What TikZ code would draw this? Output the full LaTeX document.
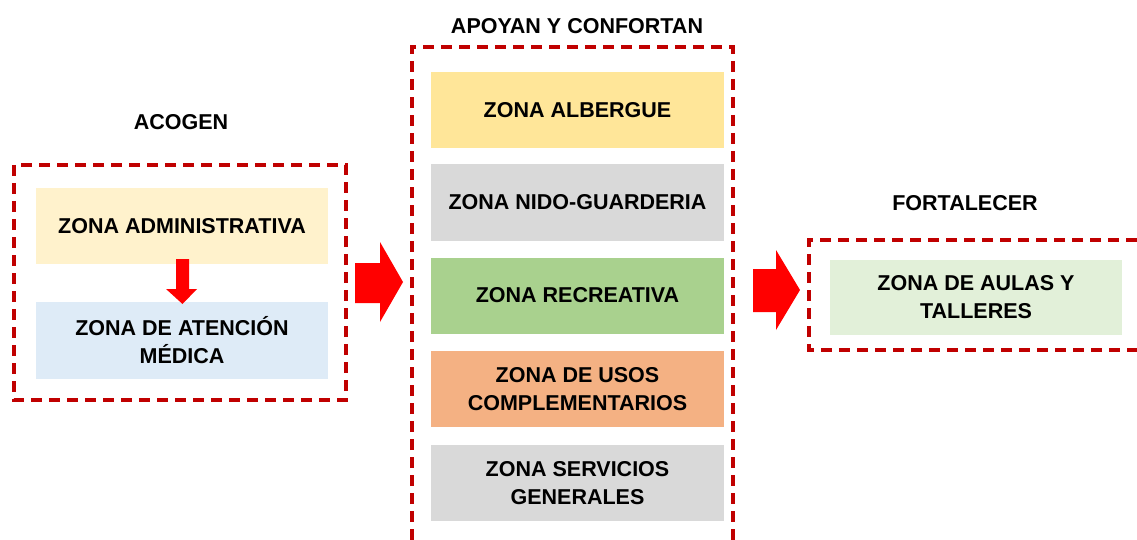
\documentclass[tikz,border=0pt]{standalone}
\usepackage{fontspec}
\setmainfont{Liberation Sans}
\begin{document}
\begin{tikzpicture}[x=1pt,y=-1pt,
  zone/.style={inner sep=0pt, minimum width=293pt, minimum height=76pt, align=center,
    font=\fontsize{21.5}{28}\selectfont\bfseries, text=black},
  heading/.style={font=\fontsize{21.5}{24}\selectfont\bfseries, text=black},
  frame/.style={draw=framered, line width=3.2pt, dash pattern=on 11pt off 7pt},
  bigarrow/.style={fill=arrowred, draw=none}]
\definecolor{framered}{HTML}{C00000}
\definecolor{arrowred}{HTML}{FF0000}
\definecolor{cadmin}{HTML}{FFF2CC}
\definecolor{cmed}{HTML}{DEEBF7}
\definecolor{calb}{HTML}{FFE699}
\definecolor{cgray}{HTML}{D9D9D9}
\definecolor{crec}{HTML}{A9D18E}
\definecolor{cusos}{HTML}{F4B183}
\definecolor{caulas}{HTML}{E2F0D9}
\useasboundingbox (0,0) rectangle (1137,540);
\fill[white] (0,0) rectangle (1137,540);

% headings
\node[heading] (hacogen) at (181,122) {ACOGEN};
\node[heading] (hapoyan) at (577,26) {APOYAN Y CONFORTAN};
\node[heading] (hfort) at (965,203) {FORTALECER};

% frames
\draw[frame] (14,165) rectangle (346,400);
\draw[frame] (412,540) -- (412,47) -- (733,47) -- (733,540);
\draw[frame] (1137,240) -- (809,240) -- (809,350) -- (1137,350);

% left zones
\node[zone, fill=cadmin, minimum width=292pt] (admin) at (182,226) {ZONA ADMINISTRATIVA};
\node[zone, fill=cmed, minimum width=292pt, minimum height=77pt] (med) at (182,340.5) {ZONA DE ATENCIÓN\\MÉDICA};

% middle zones
\node[zone, fill=calb] (alb) at (577.5,110) {ZONA ALBERGUE};
\node[zone, fill=cgray] (nido) at (577.5,202.5) {ZONA NIDO-GUARDERIA};
\node[zone, fill=crec] (rec) at (577.5,295.5) {ZONA RECREATIVA};
\node[zone, fill=cusos] (usos) at (577.5,389) {ZONA DE USOS\\COMPLEMENTARIOS};
\node[zone, fill=cgray] (serv) at (577.5,483) {ZONA SERVICIOS\\GENERALES};

% right zone
\node[zone, fill=caulas, minimum width=292pt, minimum height=75pt] (aulas) at (976,297.5) {ZONA DE AULAS Y\\TALLERES};

% small down arrow
\fill[arrowred] (176,259) -- (189,259) -- (189,289) -- (197,289) -- (182.5,304) -- (166,289) -- (176,289) -- cycle;

% big arrows
\fill[arrowred] (355,263) -- (380,263) -- (380,242) -- (403,282) -- (380,322) -- (380,303) -- (355,303) -- cycle;
\fill[arrowred] (753,269) -- (776,269) -- (776,250) -- (800,290) -- (776,330) -- (776,312) -- (753,312) -- cycle;
\end{tikzpicture}
\end{document}
